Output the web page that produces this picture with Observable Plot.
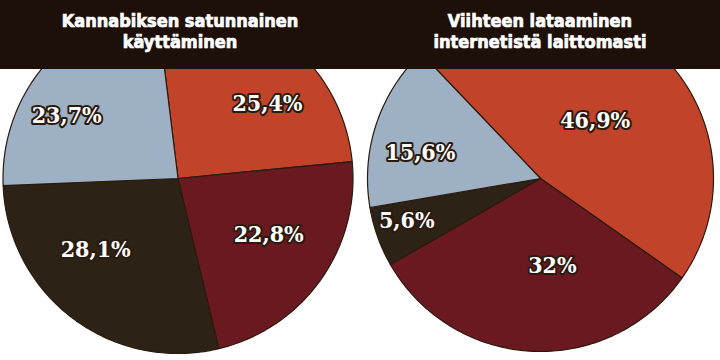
<!DOCTYPE html>
<html><head><meta charset="utf-8">
<script src="https://cdn.jsdelivr.net/npm/d3@7"></script>
<script src="https://cdn.jsdelivr.net/npm/@observablehq/plot@0.6"></script>
<style>
body{margin:0;background:#fff}
#wrap{position:relative;width:720px;height:360px;overflow:hidden;background:#fff}
#charts{display:flex}
#charts svg{display:block}
#header{position:absolute;left:0;top:0;width:720px;height:69px;background:#1d1008;display:flex}
.t{width:360px;color:#fff;font-family:"DejaVu Sans Condensed","DejaVu Sans",sans-serif;font-stretch:condensed;font-weight:bold;font-size:18px;line-height:21px;text-align:center;padding-top:10px;box-sizing:border-box;white-space:pre-line;-webkit-text-stroke:0.7px #fff}
</style></head><body>
<div id="wrap"><div id="charts"></div><div id="header"></div></div>
<script>
// ---- data ----
const titles = ["Kannabiksen satunnainen\nkäyttäminen", "Viihteen lataaminen\ninternetistä laittomasti"];
const categories = ["s1", "s2", "s3", "s4"];            // clockwise order of slices
const kannabisValues = [25.4, 22.8, 28.1, 23.7];
const viihdeValues   = [46.9, 32, 5.6, 15.6];

// ---- styling / layout ----
const colors = ["#c1442a", "#6b1920", "#2d2216", "#9eb0c3"];
const pies = [
  {values: kannabisValues, start: -7,    cx: 177.5, cy: 178, r: 175,
   labelShift: [11.3, -3.7, 12.2, -10.9], labelRadius: [0.667, 0.61, 0.62, 0.73]},
  {values: viihdeValues,   start: -43.6, cx: 180,   cy: 178, r: 173,
   labelShift: [2.7, -10.4, 2.4, -6.3],   labelRadius: [0.46, 0.51, 0.81, 0.71]}
];
const rad = d => d * Math.PI / 180;
const fmt = v => String(v).replace(".", ",") + "%";

const header = document.getElementById("header");
titles.forEach(t => { const d = document.createElement("div"); d.className = "t"; d.textContent = t; header.appendChild(d); });

const charts = document.getElementById("charts");
pies.forEach(p => {
  const arcs = d3.pie().sort(null).startAngle(rad(p.start)).endAngle(rad(p.start + 360))(p.values);
  const rows = [];
  const labels = [];
  arcs.forEach((a, i) => {
    const cat = categories[i];
    rows.push({slice: cat, x: 0, y: 0});
    const n = Math.max(2, Math.ceil((a.endAngle - a.startAngle) / rad(1)));
    for (let k = 0; k <= n; k++) {
      const t = a.startAngle + (a.endAngle - a.startAngle) * k / n;
      rows.push({slice: cat, x: Math.sin(t), y: Math.cos(t)});
    }
    rows.push({slice: cat, x: 0, y: 0});
    const m = (a.startAngle + a.endAngle) / 2 + rad(p.labelShift[i]);
    labels.push({x: p.labelRadius[i] * Math.sin(m), y: p.labelRadius[i] * Math.cos(m), text: fmt(a.data)});
  });
  const chart = Plot.plot({
    width: 360, height: 360,
    margin: 0,
    x: {domain: [-1, 1], range: [p.cx - p.r, p.cx + p.r], axis: null},
    y: {domain: [-1, 1], range: [p.cy + p.r, p.cy - p.r], axis: null},
    color: {domain: categories, range: colors},
    marks: [
      Plot.line(rows, {x: "x", y: "y", z: "slice", fill: "slice", stroke: "#2b1a0e", strokeWidth: 1.2, strokeLinejoin: "round"}),
      Plot.text(labels, {x: "x", y: "y", text: "text", fill: "white", stroke: "#2b1a0e", strokeWidth: 4,
        paintOrder: "stroke", fontSize: 23, fontWeight: "bold",
        fontFamily: "'DejaVu Serif Condensed', 'DejaVu Serif', serif"})
    ]
  });
  charts.appendChild(chart);
});
</script>
</body></html>
